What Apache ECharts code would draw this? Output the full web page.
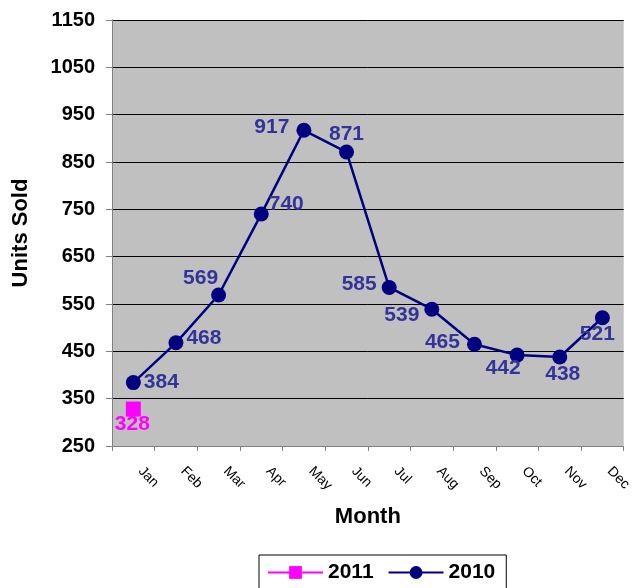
<!DOCTYPE html>
<html>
<head>
<meta charset="utf-8">
<script src="https://cdn.jsdelivr.net/npm/echarts@6/dist/echarts.min.js"></script>
<style>
  html, body { margin: 0; padding: 0; background: #fff; }
  #chart { width: 634px; height: 588px; }
</style>
</head>
<body>
<div id="chart"></div>
<script>
// months on the x axis
var months = ['Jan', 'Feb', 'Mar', 'Apr', 'May', 'Jun', 'Jul', 'Aug', 'Sep', 'Oct', 'Nov', 'Dec']
// units sold per year
var sales2010 = [384, 468, 569, 740, 917, 871, 585, 539, 465, 442, 438, 521]
var sales2011 = [328]
// label offset from each point's centre (px)
var labelOffset2010 = [[28, 0], [28, -5], [-18, -17], [25, -10], [-32, -3], [0, -18], [-30, -3], [-30, 6], [-32, -2], [-14, 13], [3, 17], [-5, 16]]
var labelOffset2011 = [[-1, 15]]

var fontFam = 'Arial, Liberation Sans'

var chart = echarts.init(document.getElementById('chart'))
var option = {
  animation: false,
  textStyle: { fontFamily: fontFam },
  grid: {
    left: 112,
    right: 7,
    top: 20,
    bottom: 142,
    show: true,
    backgroundColor: '#c0c0c0',
    borderWidth: 0
  },
  legend: {
    top: 555,
    left: 259,
    data: ['2011', '2010'],
    itemWidth: 55,
    itemHeight: 16,
    itemGap: 14,
    padding: [7, 11, 14, 8],
    borderColor: '#000',
    borderWidth: 1,
    textStyle: { fontFamily: fontFam, fontWeight: 'bold', fontSize: 21, color: '#000' }
  },
  xAxis: {
    type: 'category',
    data: months,
    boundaryGap: true,
    name: 'Month',
    nameLocation: 'middle',
    nameGap: 60,
    nameTextStyle: { fontFamily: fontFam, fontWeight: 'bold', fontSize: 22, color: '#000' },
    axisLine: { lineStyle: { color: '#808080', width: 1 } },
    axisTick: { show: true, length: 5, lineStyle: { color: '#808080' } },
    axisLabel: { rotate: -45, fontSize: 14, color: '#000', margin: 16, padding: [0, 0, 0, 10] },
    splitLine: { show: false }
  },
  yAxis: {
    type: 'value',
    min: 250,
    max: 1150,
    interval: 100,
    name: 'Units Sold',
    nameLocation: 'middle',
    nameGap: 80,
    nameTextStyle: { fontFamily: fontFam, fontWeight: 'bold', fontSize: 22, color: '#000' },
    axisLine: { show: true, lineStyle: { color: '#808080', width: 1 } },
    axisTick: { show: true, length: 6, lineStyle: { color: '#808080' } },
    axisLabel: {
      fontSize: 20,
      fontWeight: 'bold',
      color: '#000',
      margin: 17,
      formatter: function (v) { return String(v) }
    },
    splitLine: { show: true, lineStyle: { color: '#000', width: 1 } }
  },
  series: [
    {
      name: '2011',
      type: 'line',
      data: sales2011.map(function (v, i) {
        return { value: v, label: { offset: labelOffset2011[i] } }
      }),
      symbol: 'rect',
      symbolSize: 15,
      itemStyle: { color: '#ff00ff' },
      lineStyle: { color: '#ff00ff', width: 2 },
      label: {
        show: true,
        position: 'inside',
        color: '#ff00ff',
        fontFamily: fontFam,
        fontWeight: 'bold',
        fontSize: 21
      }
    },
    {
      name: '2010',
      type: 'line',
      data: sales2010.map(function (v, i) {
        return { value: v, label: { offset: labelOffset2010[i] } }
      }),
      symbol: 'circle',
      symbolSize: 15,
      itemStyle: { color: '#000080' },
      lineStyle: { color: '#000080', width: 2.5 },
      label: {
        show: true,
        position: 'inside',
        color: '#333399',
        fontFamily: fontFam,
        fontWeight: 'bold',
        fontSize: 21
      }
    }
  ]
}
chart.setOption(option)
</script>
</body>
</html>
